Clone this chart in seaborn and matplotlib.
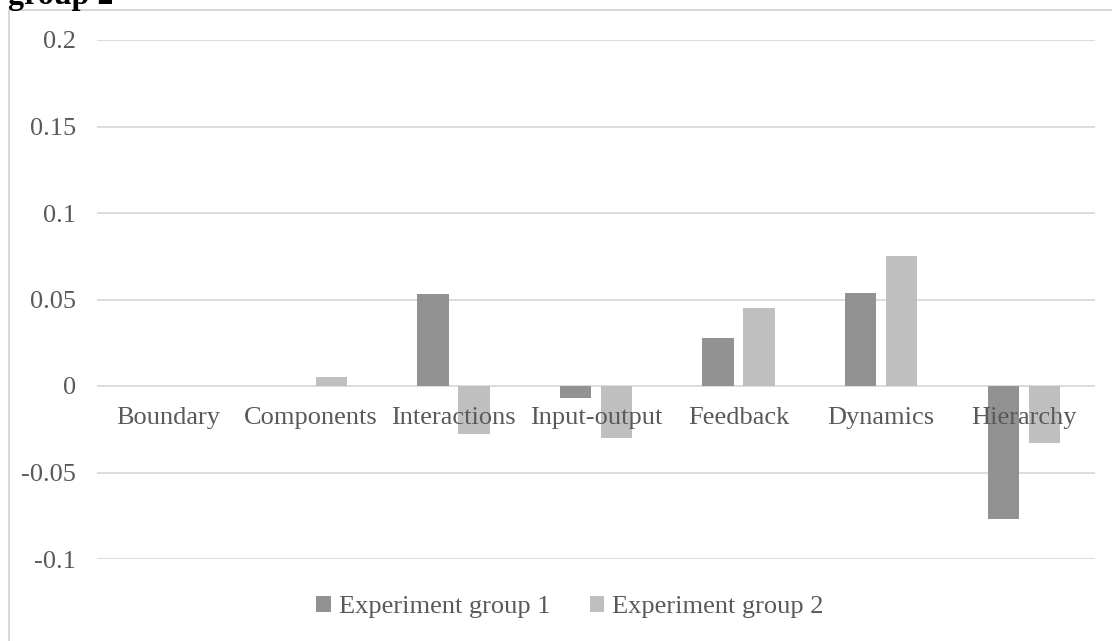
import matplotlib
matplotlib.use("Agg")
import matplotlib.pyplot as plt
from matplotlib.patches import Rectangle, Patch
import seaborn as sns
import pandas as pd

categories = ["Boundary", "Components", "Interactions", "Input-output",
              "Feedback", "Dynamics", "Hierarchy"]
group1 = [0.0, 0.0, 0.053, -0.007, 0.028, 0.054, -0.077]
group2 = [0.0, 0.005, -0.028, -0.030, 0.045, 0.075, -0.033]
series_names = ["Experiment group 1", "Experiment group 2"]
yticks = [-0.1, -0.05, 0, 0.05, 0.1, 0.15, 0.2]
ytick_labels = ["-0.1", "-0.05", "0", "0.05", "0.1", "0.15", "0.2"]
title_text = "group 2"

colors = ["#929292", "#bfbfbf"]
text_color = "#595959"
grid_color = "#d9d9d9"
fs = 19

df = pd.DataFrame({
    "category": categories * 2,
    "value": group1 + group2,
    "group": [series_names[0]] * len(categories) + [series_names[1]] * len(categories),
})

sns.set_theme(style="white")
plt.rcParams["font.family"] = ["Liberation Serif", "DejaVu Serif"]

W, H = 1112, 641
fig = plt.figure(figsize=(W / 100, H / 100), dpi=100)
ax = fig.add_axes([97 / W, 1 - 559 / H, 998 / W, 519 / H])

sns.barplot(data=df, x="category", y="value", hue="group", order=categories,
            hue_order=series_names, palette=colors, width=0.575, gap=0.235,
            legend=False, ax=ax, saturation=1, errorbar=None, linewidth=0,
            edgecolor="none")

ax.set_ylim(-0.1, 0.2)
ax.set_xlim(-0.5, len(categories) - 0.5)
ax.set_yticks(yticks)
ax.set_yticklabels(ytick_labels)
ax.set_xticks(range(len(categories)))
ax.set_xticklabels([""] * len(categories))
ax.set_xlabel("")
ax.set_ylabel("")
ax.set_axisbelow(True)
ax.yaxis.grid(True, color=grid_color, linewidth=1.3)
ax.xaxis.grid(False)
for s in ["top", "right", "left", "bottom"]:
    ax.spines[s].set_visible(False)
ax.tick_params(axis="x", length=0)
ax.tick_params(axis="y", length=0, pad=15, labelsize=fs, labelcolor=text_color)

# category labels drawn over the bars, just under the zero line
for i, lab in enumerate(categories):
    ax.annotate(lab, xy=(i, 0), xycoords="data", xytext=(0, -21),
                textcoords="offset pixels", ha="center", va="top",
                fontsize=fs, color=text_color, zorder=10)

handles = [Patch(facecolor=c, edgecolor="none") for c in colors]
fig.legend(handles, series_names, loc="center", bbox_to_anchor=(570 / W, 1 - 607 / H),
           ncol=2, frameon=False, fontsize=fs, labelcolor=text_color,
           handlelength=0.55, handleheight=0.55, handletextpad=0.3,
           columnspacing=1.5)

fig.patches.append(Rectangle((9 / W, -0.05), 1.2, 1.05 - 10 / H,
                             transform=fig.transFigure, fill=False,
                             edgecolor=grid_color, linewidth=1.5))

fig.text(8 / W, 1 - 4 / H, title_text, ha="left", va="baseline",
         fontsize=23, fontweight="bold", color="black")

fig.savefig("out.png", dpi=100, facecolor="white")
